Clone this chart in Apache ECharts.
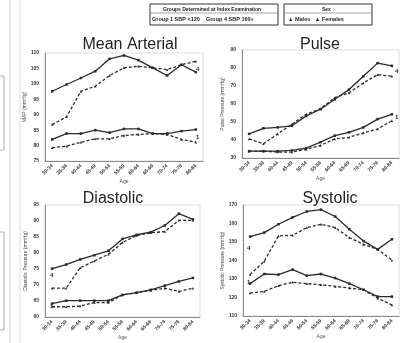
<!DOCTYPE html>
<html><head><meta charset="utf-8">
<script src="https://cdn.jsdelivr.net/npm/echarts@6/dist/echarts.min.js"></script>
<style>html,body{margin:0;padding:0;background:#fff}#c{width:403px;height:343px}</style>
</head><body><div id="c"></div>
<script>
var ages = ['30-34','35-39','40-44','45-49','50-54','55-59','60-64','65-69','70-74','75-79','80-84'];

// Mean Arterial
var mapG4M = [97.6, 99.8, 101.9, 104.1, 108.1, 109.2, 107.7, 105.2, 102.7, 106.2, 103.8];
var mapG4F = [86.8, 89.3, 97.6, 99.2, 102.7, 105.2, 105.7, 105.2, 104.6, 106.2, 107.3];
var mapG1M = [82.0, 83.9, 83.9, 85.0, 84.2, 85.4, 85.4, 83.9, 83.9, 84.7, 85.2];
var mapG1F = [79.3, 79.8, 81.1, 82.2, 82.2, 83.3, 83.6, 83.9, 83.6, 82.0, 81.1];
// Pulse
var ppG4M = [43.4, 46.5, 47.0, 47.9, 53.4, 57.1, 62.6, 68.0, 75.4, 82.7, 81.2];
var ppG4F = [40.6, 37.9, 43.4, 48.8, 54.3, 57.4, 63.5, 66.2, 71.7, 76.3, 75.4];
var ppG1M = [33.8, 33.8, 33.8, 34.2, 35.5, 38.8, 42.4, 44.3, 47.0, 51.6, 54.3];
var ppG1F = [33.8, 33.8, 33.3, 33.3, 34.8, 37.0, 40.6, 41.5, 43.9, 46.1, 50.7];
// Diastolic
var dbpG4M = [75.1, 76.4, 78.0, 79.3, 80.7, 84.4, 85.7, 86.5, 88.6, 92.3, 90.5];
var dbpG4F = [69.0, 69.0, 75.4, 77.5, 79.6, 83.3, 85.5, 86.3, 86.7, 90.2, 90.2];
var dbpG1M = [64.2, 65.1, 65.1, 65.1, 65.1, 66.9, 67.6, 68.5, 69.8, 71.1, 72.2];
var dbpG1F = [63.2, 63.2, 63.4, 64.5, 64.5, 66.9, 67.6, 68.3, 69.0, 68.0, 69.0];
// Systolic
var sbpG4M = [152.9, 155.1, 159.6, 163.3, 166.5, 167.5, 163.8, 156.9, 150.5, 146.0, 151.5];
var sbpG4F = [132.4, 139.6, 153.3, 153.6, 157.8, 159.6, 157.8, 152.4, 148.7, 146.0, 140.2];
var sbpG1M = [127.5, 132.7, 132.4, 135.1, 131.8, 132.7, 130.5, 127.5, 124.2, 120.5, 120.5];
var sbpG1F = [122.4, 123.3, 126.4, 128.2, 127.5, 126.9, 126.0, 125.1, 124.2, 119.6, 116.0];

var panelTitles = ['Mean Arterial', 'Pulse', 'Diastolic', 'Systolic'];
var yNames = ['MAP (mmHg)', 'Pulse Pressure (mmHg)', 'Diastolic Pressure (mmHg)', 'Systolic Pressure (mmHg)'];
var yMin = [75, 30, 60, 110];
var yMax = [110, 90, 95, 170];
var yStep = [5, 10, 5, 10];
var panelData = [
  [mapG4M, mapG4F, mapG1M, mapG1F],
  [ppG4M, ppG4F, ppG1M, ppG1F],
  [dbpG4M, dbpG4F, dbpG1M, dbpG1F],
  [sbpG4M, sbpG4F, sbpG1M, sbpG1F]
];
var seriesNames = ['Group 4 Males', 'Group 4 Females', 'Group 1 Males', 'Group 1 Females'];

var grids = [
  {left: 45, top: 53, width: 158, height: 108},
  {left: 242, top: 50, width: 157, height: 108},
  {left: 45, top: 205, width: 155, height: 112},
  {left: 243, top: 205, width: 156, height: 111}
];
var titlePos = [[125, 32], [315, 32], [108, 186], [325, 186]];

var chart = echarts.init(document.getElementById('c'));
var option = {
  backgroundColor: '#fff',
  animation: false,
  title: panelTitles.map(function (t, i) {
    return {text: t, left: titlePos[i][0], top: titlePos[i][1], textAlign: 'center',
      textStyle: {fontFamily: 'Liberation Sans', fontSize: 16, fontWeight: 'normal', color: '#222'}};
  }),
  grid: grids.map(function (g) {
    return {left: g.left, top: g.top, width: g.width, height: g.height, show: true,
      borderColor: '#ddd', borderWidth: 1, backgroundColor: 'transparent'};
  }),
  xAxis: grids.map(function (g, i) {
    return {type: 'category', gridIndex: i, data: ages, boundaryGap: true,
      name: 'Age', nameLocation: 'middle', nameGap: 18,
      nameTextStyle: {fontSize: 5, color: '#555'},
      axisLine: {lineStyle: {color: '#888', width: 1}},
      axisTick: {show: false},
      axisLabel: {fontSize: 5, color: '#333', rotate: 45, margin: 4, interval: 0, fontWeight: 'bold'},
      splitLine: {show: false}};
  }),
  yAxis: grids.map(function (g, i) {
    return {type: 'value', gridIndex: i, min: yMin[i], max: yMax[i], interval: yStep[i],
      name: yNames[i], nameLocation: 'middle', nameGap: 17, nameRotate: 90,
      nameTextStyle: {fontSize: 5, color: '#444'},
      axisLine: {show: true, lineStyle: {color: '#888', width: 1}},
      axisTick: {show: false},
      axisLabel: {fontSize: 5, color: '#333', margin: 6, fontWeight: 'bold'},
      splitLine: {show: false}};
  }),
  series: [],
  graphic: []
};

panelData.forEach(function (set, p) {
  set.forEach(function (vals, k) {
    var female = (k % 2 === 1);
    option.series.push({
      type: 'line', name: seriesNames[k], xAxisIndex: p, yAxisIndex: p,
      data: vals, symbol: female ? 'triangle' : 'rect', symbolSize: 2.5,
      showSymbol: true,
      lineStyle: {color: '#2a2a2a', width: 1.3, type: female ? [3, 2] : 'solid'},
      itemStyle: {color: '#2a2a2a'}
    });
  });
});

// legend boxes
option.graphic.push(
  {type: 'rect', shape: {x: 150, y: 4, width: 128, height: 21}, style: {fill: 'none', stroke: '#333', lineWidth: 1}},
  {type: 'line', shape: {x1: 150, y1: 13, x2: 278, y2: 13}, style: {stroke: '#666', lineWidth: 0.6}},
  {type: 'text', left: 163, top: 7, style: {text: 'Groups Determined at Index Examination', fontSize: 5, fill: '#222', fontWeight: 'bold'}},
  {type: 'text', left: 152, top: 16, style: {text: 'Group 1 SBP <120    Group 4 SBP 160+', fontSize: 5.5, fill: '#222', fontWeight: 'bold'}},
  {type: 'rect', shape: {x: 284, y: 4, width: 88, height: 21}, style: {fill: 'none', stroke: '#333', lineWidth: 1}},
  {type: 'line', shape: {x1: 284, y1: 13, x2: 372, y2: 13}, style: {stroke: '#666', lineWidth: 0.6}},
  {type: 'text', left: 322, top: 7, style: {text: 'Sex', fontSize: 5, fill: '#222', fontWeight: 'bold'}},
  {type: 'text', left: 288, top: 16, style: {text: '\u25B2 Males   \u25B2 Females', fontSize: 5.5, fill: '#222', fontWeight: 'bold'}}
);
// group number labels
var numLabels = [['4', 196, 66], ['1', 196, 134], ['4', 395, 68], ['1', 395, 114], ['4', 50, 272], ['1', 50, 303], ['4', 247, 245], ['1', 247, 279]];
numLabels.forEach(function (l) {
  option.graphic.push({type: 'text', left: l[1], top: l[2], style: {text: l[0], fontSize: 6, fill: '#222', fontWeight: 'bold'}});
});
// scan artifacts: page margin lines and brackets
option.graphic.push(
  {type: 'line', shape: {x1: 10, y1: 0, x2: 10, y2: 343}, style: {stroke: '#ccc', lineWidth: 1}},
  {type: 'line', shape: {x1: 20, y1: 0, x2: 20, y2: 343}, style: {stroke: '#ddd', lineWidth: 1}},
  {type: 'polyline', shape: {points: [[0, 76], [4, 76], [4, 150], [0, 150]]}, style: {stroke: '#999', fill: 'none', lineWidth: 0.8}},
  {type: 'polyline', shape: {points: [[0, 232], [4, 232], [4, 330], [0, 330]]}, style: {stroke: '#999', fill: 'none', lineWidth: 0.8}}
);

chart.setOption(option);
</script></body></html>
